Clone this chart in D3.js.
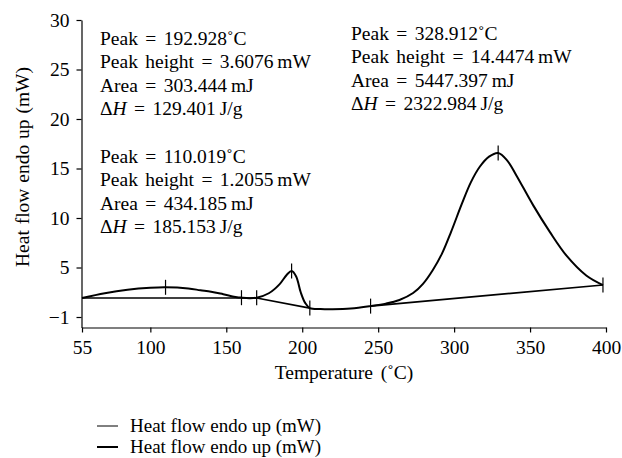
<!DOCTYPE html>
<html lang="en">
<head>
    <meta charset="UTF-8">
    <title>DSC Heat flow</title>
    <script src="https://d3js.org/d3.v7.min.js"></script>
    <style>
        body { margin: 0; background: #fff; }
        svg { display: block; font-family: "Liberation Serif", "DejaVu Serif", serif; }
        .axis path, .axis line { stroke: #000; stroke-width: 1.2; }
        .axis text { font-size: 19.5px; fill: #000; font-family: "Liberation Serif", "DejaVu Serif", serif; }
        .note { font-size: 19.5px; fill: #000; word-spacing: 2.5px; }
    </style>
</head>
<body>
    <div id="chart"></div>
    <script>
        const width = 622;
        const height = 458;

        // Messkurve (Temperatur °C, Wärmefluss mW)
        const curveT = [55, 70, 85, 100, 110, 125, 133, 140, 148, 157, 160, 165, 170, 178, 185, 190, 193, 196, 199, 202, 205, 212, 220, 232, 245, 255, 264, 273, 279.5, 286, 292, 298, 305, 311, 317, 323, 329, 335, 341, 352, 363, 374, 387, 398];
        const curveQ = [1.92, 2.4, 2.75, 2.95, 3.0, 2.88, 2.7, 2.55, 2.3, 2.0, 1.95, 1.9, 1.95, 2.4, 3.3, 4.3, 4.65, 4.1, 2.5, 1.4, 0.9, 0.8, 0.78, 0.85, 1.1, 1.35, 1.72, 2.42, 3.35, 4.75, 6.4, 8.6, 11.4, 13.6, 15.2, 16.2, 16.57, 15.8, 14.3, 11.3, 8.6, 6.2, 4.2, 3.23];

        // Basislinien der drei Peaks
        const baselines = [
            { t: [55, 170], q: [1.92, 1.92] },
            { t: [170, 205], q: [1.92, 0.9] },
            { t: [245, 398], q: [1.1, 3.23] }
        ];

        // Markierungen auf der Kurve
        const markT = [110, 160, 170, 193, 205, 245, 329, 398];
        const markQ = [3.0, 1.95, 1.95, 4.65, 0.9, 1.1, 16.57, 3.23];

        const xTicks = [55, 100, 150, 200, 250, 300, 350, 400];
        const yTicks = [0, 5, 10, 15, 20, 25, 30];
        const yTickLabels = ["\u22121", "5", "10", "15", "20", "25", "30"];

        const notes = [
            { x: 100, y: 45, lines: ["Peak = 192.928\u02DAC", "Peak height = 3.6076\u2009mW", "Area = 303.444\u2009mJ", "\u0394H = 129.401\u2009J/g"] },
            { x: 100, y: 163, lines: ["Peak = 110.019\u02DAC", "Peak height = 1.2055\u2009mW", "Area = 434.185\u2009mJ", "\u0394H = 185.153\u2009J/g"] },
            { x: 351, y: 40, lines: ["Peak = 328.912\u02DAC", "Peak height = 14.4474\u2009mW", "Area = 5447.397\u2009mJ", "\u0394H = 2322.984\u2009J/g"] }
        ];

        const legendLabels = ["Heat flow endo up (mW)", "Heat flow endo up (mW)"];

        const svg = d3.select("#chart").append("svg")
            .attr("width", width)
            .attr("height", height);

        const x = d3.scaleLinear().domain([55, 400]).range([82, 606]);
        const y = d3.scaleLinear().domain([-1.06, 30]).range([327.5, 20]);

        // Achsen
        svg.append("g")
            .attr("class", "axis")
            .attr("transform", "translate(0,327.5)")
            .call(d3.axisBottom(x).tickValues(xTicks).tickSize(5).tickSizeOuter(0).tickPadding(4))
            .call(g => g.selectAll("text").attr("dy", "0.9em"));

        svg.append("g")
            .attr("class", "axis")
            .attr("transform", "translate(81.5,0)")
            .call(d3.axisLeft(y).tickValues(yTicks).tickFormat((d, i) => yTickLabels[i]).tickSize(5).tickSizeOuter(0).tickPadding(7));

        // Basislinien
        const line = d3.line().x(d => x(d[0])).y(d => y(d[1]));
        baselines.forEach(b => {
            svg.append("path")
                .datum(b.t.map((t, i) => [t, b.q[i]]))
                .attr("d", line)
                .attr("fill", "none")
                .attr("stroke", "#000")
                .attr("stroke-width", 1.7);
        });

        // Messkurve
        svg.append("path")
            .datum(curveT.map((t, i) => [t, curveQ[i]]))
            .attr("d", line.curve(d3.curveCatmullRom.alpha(0.5)))
            .attr("fill", "none")
            .attr("stroke", "#000")
            .attr("stroke-width", 2);

        // Markierungen
        svg.selectAll(".mark")
            .data(markT.map((t, i) => [t, markQ[i]]))
            .join("line")
            .attr("class", "mark")
            .attr("x1", d => x(d[0])).attr("x2", d => x(d[0]))
            .attr("y1", d => y(d[1]) - 7.5).attr("y2", d => y(d[1]) + 7.5)
            .attr("stroke", "#000")
            .attr("stroke-width", 1.2);

        // Beschriftungen der Peaks
        notes.forEach(n => {
            const t = svg.append("text").attr("class", "note");
            n.lines.forEach((l, i) => {
                const ts = t.append("tspan").attr("x", n.x).attr("y", n.y + i * 23.4);
                if (l.startsWith("\u0394H")) {
                    ts.append("tspan").text("\u0394");
                    ts.append("tspan").attr("font-style", "italic").text("H");
                    ts.append("tspan").text(l.slice(2));
                } else {
                    ts.text(l);
                }
            });
        });

        // Achsentitel
        svg.append("text")
            .attr("transform", "translate(29,167) rotate(-90)")
            .attr("text-anchor", "middle")
            .attr("font-size", 19.5)
            .attr("word-spacing", 1)
            .text("Heat flow endo up (mW)");

        svg.append("text")
            .attr("x", 344).attr("y", 379)
            .attr("text-anchor", "middle")
            .attr("font-size", 19.5)
            .attr("word-spacing", 3)
            .text("Temperature (\u02DAC)");

        // Legende
        const legend = svg.append("g").attr("transform", "translate(97,426)");
        legendLabels.forEach((l, i) => {
            legend.append("line")
                .attr("x1", 0).attr("x2", 21)
                .attr("y1", i * 21).attr("y2", i * 21)
                .attr("stroke", "#000")
                .attr("stroke-width", i === 0 ? 1 : 2);
            legend.append("text")
                .attr("x", 33).attr("y", i * 21 + 6)
                .attr("font-size", 19)
                .text(l);
        });
    </script>
</body>
</html>
